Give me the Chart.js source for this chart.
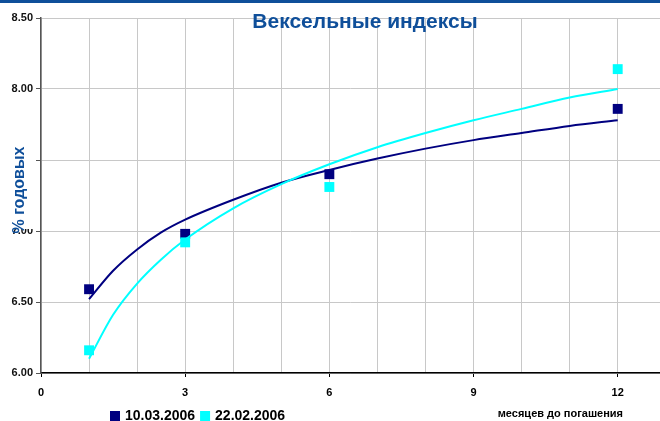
<!DOCTYPE html>
<html>
<head>
<meta charset="utf-8">
<script src="https://cdn.jsdelivr.net/npm/chart.js@4.4.0/dist/chart.umd.min.js"></script>
<style>
  html, body { margin: 0; padding: 0; background: #fff; }
  #wrap { width: 660px; height: 421px; position: relative; }
</style>
</head>
<body>
<div id="wrap"><canvas id="chart" width="660" height="421"></canvas></div>
<script>
// months to maturity and yields
const months = [1, 3, 6, 12];
const rates1003 = [6.59, 6.98, 7.40, 7.86];
const rates2202 = [6.16, 6.92, 7.31, 8.14];

// trend lines (denser where the curve bends)
const trendMonths = [1, 1.5, 2, 2.5, 3, 4, 5, 6, 7, 8, 9, 10, 11, 12];
const trend1003 = [6.52, 6.72, 6.87, 6.99, 7.08, 7.22, 7.34, 7.43, 7.51, 7.58, 7.64, 7.69, 7.74, 7.78];
const trend2202 = [6.10, 6.41, 6.63, 6.80, 6.94, 7.16, 7.33, 7.47, 7.59, 7.69, 7.78, 7.86, 7.94, 8.00];

const seriesLabels = ['10.03.2006', '22.02.2006'];
const seriesColors = ['#000080', '#00ffff'];
const xGridMonths = [0, 1, 2, 3, 4, 5, 6, 7, 8, 9, 10, 11, 12];
const xTickLabels = [0, 3, 6, 9, 12];

const chartTitle = 'Вексельные индексы';
const yTitle = '% годовых';
const xTitle = 'месяцев до погашения';

const FONT = "'Liberation Sans', Arial, sans-serif";
const BLUE = '#0f4f9a';

const toPoints = (xs, ys) => xs.map((x, i) => ({ x: x, y: ys[i] }));

const decor = {
    id: 'decor',
    beforeDraw(chart) {
        const ctx = chart.ctx;
        ctx.save();
        ctx.fillStyle = '#fff';
        ctx.fillRect(0, 0, chart.width, chart.height);
        ctx.fillStyle = BLUE;
        ctx.fillRect(0, 0, chart.width, 3);
        ctx.restore();
    },
    afterDraw(chart) {
        const ctx = chart.ctx;
        ctx.save();

        // title
        ctx.font = 'bold 21px ' + FONT;
        ctx.fillStyle = BLUE;
        ctx.textAlign = 'center';
        ctx.textBaseline = 'alphabetic';
        ctx.fillText(chartTitle, 365, 28);

        // y axis title on a white box that hides the 7.50 label
        ctx.fillStyle = '#fff';
        ctx.fillRect(4, 138, 31, 91);
        ctx.translate(20, 190);
        ctx.rotate(-Math.PI / 2);
        ctx.font = 'bold 16px ' + FONT;
        ctx.fillStyle = BLUE;
        ctx.textAlign = 'center';
        ctx.textBaseline = 'middle';
        ctx.fillText(yTitle, 0, 0);
        ctx.setTransform(1, 0, 0, 1, 0, 0);

        // x axis title
        ctx.font = 'bold 11px ' + FONT;
        ctx.fillStyle = '#000';
        ctx.textAlign = 'right';
        ctx.fillText(xTitle, 623, 414);

        // legend
        ctx.font = 'bold 14px ' + FONT;
        ctx.textAlign = 'left';
        let x = 110;
        seriesLabels.forEach((label, i) => {
            ctx.fillStyle = seriesColors[i];
            ctx.fillRect(x, 411, 10, 10);
            ctx.fillStyle = '#000';
            ctx.fillText(label, x + 15, 416);
            x += 15 + ctx.measureText(label).width + 5;
        });
        ctx.restore();
    }
};

new Chart(document.getElementById('chart'), {
    type: 'scatter',
    data: {
        datasets: [
            {
                label: seriesLabels[0],
                data: toPoints(months, rates1003),
                backgroundColor: seriesColors[0],
                borderColor: seriesColors[0],
                pointStyle: 'rect',
                pointRadius: 7,
                borderWidth: 0,
                order: 3
            },
            {
                label: seriesLabels[1],
                data: toPoints(months, rates2202),
                backgroundColor: seriesColors[1],
                borderColor: seriesColors[1],
                pointStyle: 'rect',
                pointRadius: 7,
                borderWidth: 0,
                order: 2
            },
            {
                label: 'trend ' + seriesLabels[0],
                data: toPoints(trendMonths, trend1003),
                showLine: true,
                borderColor: seriesColors[0],
                borderWidth: 2,
                pointRadius: 0,
                cubicInterpolationMode: 'monotone',
                order: 1
            },
            {
                label: 'trend ' + seriesLabels[1],
                data: toPoints(trendMonths, trend2202),
                showLine: true,
                borderColor: seriesColors[1],
                borderWidth: 2,
                pointRadius: 0,
                cubicInterpolationMode: 'monotone',
                order: 0
            }
        ]
    },
    options: {
        responsive: false,
        animation: false,
        layout: { autoPadding: false, padding: { top: 18, left: 0, right: 0, bottom: 0 } },
        plugins: {
            legend: { display: false },
            title: { display: false },
            tooltip: { enabled: false }
        },
        scales: {
            x: {
                type: 'linear',
                min: 0,
                max: 12.88,
                afterBuildTicks: (scale) => {
                    scale.ticks = xGridMonths.map((m) => ({ value: m }));
                },
                afterFit: (scale) => { scale.height = 48; },
                ticks: {
                    autoSkip: false,
                    maxRotation: 0,
                    padding: 9,
                    color: '#000',
                    font: { family: FONT, size: 11, weight: 'bold' },
                    callback: (v) => (xTickLabels.includes(v) ? String(v) : '')
                },
                grid: {
                    color: '#c8c8c8',
                    lineWidth: 1,
                    tickLength: 4,
                    tickColor: (c) => (c.tick && xTickLabels.includes(c.tick.value) ? '#000' : 'rgba(0,0,0,0)')
                },
                border: { color: '#000', width: 1.5 }
            },
            y: {
                min: 6,
                max: 8.5,
                afterFit: (scale) => { scale.width = 41; },
                ticks: {
                    stepSize: 0.5,
                    padding: 3,
                    color: '#111',
                    font: { family: FONT, size: 11, weight: 'bold' },
                    callback: (v) => v.toFixed(2)
                },
                grid: {
                    color: '#c8c8c8',
                    lineWidth: 1,
                    tickLength: 5,
                    tickColor: '#555'
                },
                border: { color: '#555', width: 1.5 }
            }
        }
    },
    plugins: [decor]
});
</script>
</body>
</html>
